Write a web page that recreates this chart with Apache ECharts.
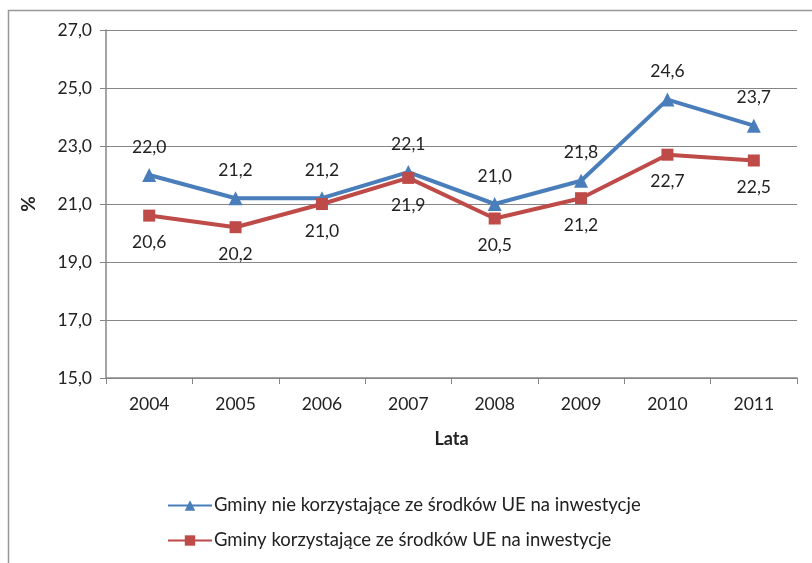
<!DOCTYPE html>
<html>
<head>
<meta charset="utf-8">
<script src="https://cdn.jsdelivr.net/npm/echarts@6/dist/echarts.min.js"></script>
<style>
  html, body { margin: 0; padding: 0; background: #fff; }
</style>
</head>
<body>
<div id="echarts" style="width: 812px; height: 563px"></div>
<script>
const years = ['2004', '2005', '2006', '2007', '2008', '2009', '2010', '2011']
const bezUE = [22.0, 21.2, 21.2, 22.1, 21.0, 21.8, 24.6, 23.7]
const zUE = [20.6, 20.2, 21.0, 21.9, 20.5, 21.2, 22.7, 22.5]
const seriesNames = [
  'Gminy nie korzystające ze środków UE na inwestycje',
  'Gminy korzystające ze środków UE na inwestycje'
]

const fmt = (v) => v.toFixed(1).replace('.', ',')
const font = 'Lato, "Open Sans", sans-serif'
const txt = '#222'

let myChart = echarts.init(document.getElementById('echarts'))

let option = {
  animation: false,
  color: ['#4a7ebb', '#be4b48'],
  textStyle: { fontFamily: font },
  graphic: [
    {
      type: 'rect',
      shape: { x: 8.5, y: 10.5, width: 900, height: 700 },
      style: { fill: 'none', stroke: '#999', lineWidth: 1.5 }
    }
  ],
  grid: { left: 106, right: 15, top: 30, bottom: 185 },
  legend: {
    orient: 'vertical',
    left: 162,
    top: 491,
    itemGap: 16,
    itemWidth: 44,
    itemHeight: 13,
    textStyle: { fontSize: 18.5, color: txt, fontFamily: font, padding: [0, 0, 0, -3] },
    data: seriesNames
  },
  xAxis: {
    type: 'category',
    data: years,
    boundaryGap: true,
    name: 'Lata',
    nameLocation: 'middle',
    nameGap: 52,
    nameTextStyle: { fontSize: 18, fontWeight: 'bold', color: txt },
    axisLine: { lineStyle: { color: '#868686', width: 1.5 } },
    axisTick: { show: true, length: 6, lineStyle: { color: '#868686' } },
    axisLabel: { fontSize: 17.5, color: txt, margin: 17 }
  },
  yAxis: {
    type: 'value',
    min: 15,
    max: 27,
    interval: 2,
    name: '%',
    nameLocation: 'middle',
    nameGap: 68,
    nameTextStyle: { fontSize: 19, fontWeight: 'bold', color: txt },
    axisLine: { show: true, lineStyle: { color: '#868686', width: 1.5 } },
    axisTick: { show: true, length: 6, lineStyle: { color: '#868686' } },
    axisLabel: { fontSize: 17.5, color: txt, margin: 14, formatter: (v) => fmt(v) },
    splitLine: { lineStyle: { color: '#868686', width: 1.2 } }
  },
  series: [
    {
      name: seriesNames[0],
      type: 'line',
      data: bezUE,
      symbol: 'triangle',
      symbolSize: 14,
      lineStyle: { width: 4 },
      label: {
        show: true, position: 'top', distance: 12,
        fontSize: 17.5, color: txt, formatter: (p) => fmt(p.value)
      }
    },
    {
      name: seriesNames[1],
      type: 'line',
      data: zUE,
      symbol: 'rect',
      symbolSize: 12,
      lineStyle: { width: 4 },
      label: {
        show: true, position: 'bottom', distance: 12,
        fontSize: 17.5, color: txt, formatter: (p) => fmt(p.value)
      }
    }
  ]
}

myChart.setOption(option)
</script>
</body>
</html>
